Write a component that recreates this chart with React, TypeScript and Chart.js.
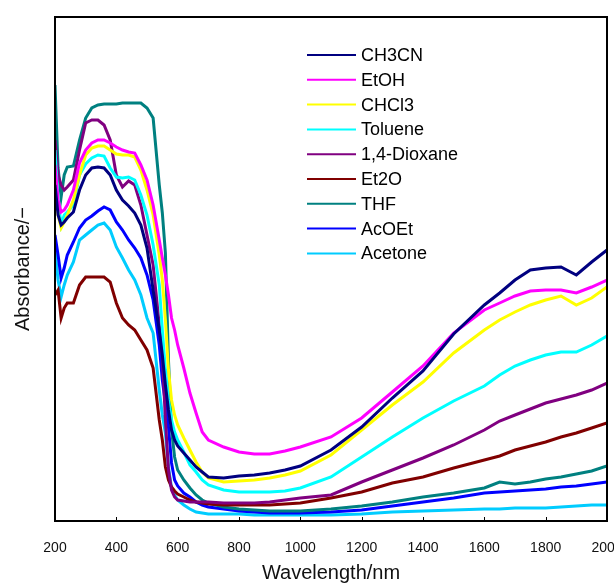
import { useEffect, useRef } from "react";
import { Chart, registerables } from "chart.js";

Chart.register(...registerables);

const wavelengths = [200, 210, 220, 230, 240, 260, 280, 300, 320, 340, 360, 380, 400, 420, 440, 460, 480, 500, 520, 540, 550, 560, 570, 580, 590, 600, 620, 640, 660, 680, 700, 750, 800, 850, 900, 950, 1000, 1100, 1200, 1300, 1400, 1500, 1600, 1650, 1700, 1750, 1800, 1850, 1900, 1950, 2000];

const ch3cn = [3.36, 3.06, 2.96, 2.99, 3.03, 3.09, 3.31, 3.46, 3.53, 3.54, 3.53, 3.46, 3.31, 3.21, 3.15, 3.08, 2.96, 2.73, 2.31, 1.91, 1.66, 1.36, 1.11, 0.91, 0.81, 0.75, 0.68, 0.61, 0.54, 0.49, 0.44, 0.43, 0.45, 0.46, 0.48, 0.51, 0.55, 0.71, 0.94, 1.23, 1.5, 1.87, 2.16, 2.28, 2.41, 2.51, 2.53, 2.54, 2.46, 2.59, 2.71];
const etoh = [3.56, 3.21, 3.09, 3.11, 3.16, 3.31, 3.58, 3.71, 3.78, 3.81, 3.81, 3.78, 3.74, 3.71, 3.69, 3.68, 3.56, 3.41, 3.16, 2.81, 2.63, 2.46, 2.26, 2.03, 1.91, 1.76, 1.53, 1.28, 1.08, 0.89, 0.81, 0.74, 0.69, 0.67, 0.67, 0.7, 0.74, 0.84, 1.03, 1.29, 1.55, 1.88, 2.11, 2.18, 2.25, 2.3, 2.31, 2.31, 2.28, 2.34, 2.41];
const chcl3 = [3.46, 3.06, 2.93, 2.99, 3.06, 3.21, 3.46, 3.66, 3.73, 3.75, 3.75, 3.71, 3.67, 3.66, 3.66, 3.64, 3.51, 3.31, 3.06, 2.66, 2.41, 2.01, 1.51, 1.21, 1.06, 0.96, 0.83, 0.71, 0.59, 0.49, 0.43, 0.39, 0.4, 0.41, 0.43, 0.46, 0.5, 0.66, 0.91, 1.16, 1.39, 1.68, 1.91, 2.01, 2.09, 2.16, 2.21, 2.25, 2.16, 2.23, 2.34];
const toluene = [3.71, 3.21, 2.96, 3.06, 3.09, 3.16, 3.46, 3.57, 3.63, 3.66, 3.65, 3.53, 3.44, 3.43, 3.44, 3.41, 3.26, 3.06, 2.76, 2.36, 1.91, 1.51, 1.21, 1.01, 0.89, 0.81, 0.69, 0.56, 0.49, 0.41, 0.36, 0.31, 0.29, 0.29, 0.29, 0.3, 0.33, 0.44, 0.64, 0.84, 1.03, 1.2, 1.35, 1.46, 1.55, 1.61, 1.66, 1.69, 1.69, 1.76, 1.85];
const dioxane = [3.81, 3.46, 3.36, 3.31, 3.34, 3.41, 3.71, 3.98, 4.01, 4.01, 3.96, 3.81, 3.46, 3.34, 3.4, 3.36, 3.16, 2.86, 2.56, 1.96, 1.66, 1.01, 0.51, 0.31, 0.24, 0.21, 0.2, 0.19, 0.19, 0.19, 0.19, 0.18, 0.18, 0.18, 0.19, 0.21, 0.23, 0.26, 0.39, 0.51, 0.63, 0.76, 0.91, 1.0, 1.06, 1.12, 1.18, 1.22, 1.26, 1.31, 1.38];
const et2o = [2.26, 2.31, 2.03, 2.13, 2.18, 2.18, 2.36, 2.44, 2.44, 2.44, 2.44, 2.39, 2.18, 2.03, 1.96, 1.91, 1.81, 1.71, 1.53, 1.01, 0.81, 0.54, 0.41, 0.34, 0.3, 0.27, 0.24, 0.21, 0.19, 0.18, 0.17, 0.16, 0.16, 0.16, 0.16, 0.17, 0.18, 0.23, 0.29, 0.38, 0.44, 0.53, 0.61, 0.65, 0.71, 0.75, 0.79, 0.84, 0.88, 0.93, 0.98];
const thf = [4.36, 3.53, 3.24, 3.46, 3.54, 3.55, 3.81, 4.03, 4.13, 4.16, 4.17, 4.17, 4.17, 4.18, 4.18, 4.18, 4.18, 4.13, 4.03, 3.36, 3.08, 2.68, 1.61, 0.91, 0.64, 0.51, 0.41, 0.33, 0.26, 0.21, 0.18, 0.14, 0.12, 0.11, 0.1, 0.1, 0.1, 0.12, 0.15, 0.19, 0.24, 0.28, 0.33, 0.39, 0.37, 0.39, 0.42, 0.44, 0.47, 0.5, 0.55];
const acoet = [2.86, 2.66, 2.43, 2.53, 2.66, 2.79, 2.93, 3.01, 3.05, 3.1, 3.14, 3.11, 2.99, 2.91, 2.81, 2.73, 2.63, 2.46, 2.21, 1.76, 1.41, 1.18, 0.94, 0.58, 0.41, 0.35, 0.28, 0.24, 0.19, 0.16, 0.14, 0.12, 0.1, 0.09, 0.08, 0.08, 0.08, 0.09, 0.11, 0.15, 0.19, 0.23, 0.28, 0.29, 0.3, 0.31, 0.32, 0.34, 0.35, 0.37, 0.39];
const acetone = [2.71, 2.41, 2.24, 2.36, 2.46, 2.59, 2.81, 2.86, 2.91, 2.96, 2.98, 2.91, 2.74, 2.63, 2.51, 2.41, 2.26, 2.03, 1.88, 1.31, 1.06, 0.88, 0.54, 0.33, 0.26, 0.21, 0.16, 0.12, 0.09, 0.08, 0.07, 0.07, 0.07, 0.06, 0.06, 0.06, 0.06, 0.06, 0.07, 0.09, 0.1, 0.11, 0.12, 0.12, 0.13, 0.13, 0.13, 0.14, 0.15, 0.16, 0.16];

const seriesNames = ["CH3CN", "EtOH", "CHCl3", "Toluene", "1,4-Dioxane", "Et2O", "THF", "AcOEt", "Acetone"];
const seriesValues = [ch3cn, etoh, chcl3, toluene, dioxane, et2o, thf, acoet, acetone];
const seriesColors = ["#000080", "#FF00FF", "#FFFF00", "#00FFFF", "#800080", "#800000", "#008080", "#0000FF", "#00CCFF"];

const xTickValues = [200, 400, 600, 800, 1000, 1200, 1400, 1600, 1800, 2000];

const FONT = "'Liberation Sans', Arial, sans-serif";

const framePlugin = {
  id: "frameAndLegend",
  afterDraw(chart: any) {
    const { ctx, chartArea } = chart;
    const { left, top, right, bottom } = chartArea;
    ctx.save();
    ctx.strokeStyle = "#000";
    ctx.lineWidth = 2;
    ctx.strokeRect(left, top, right - left, bottom - top);
    const xs = chart.scales.x;
    ctx.lineWidth = 1;
    xTickValues.forEach((v) => {
      const px = Math.round(xs.getPixelForValue(v)) + 0.5;
      ctx.beginPath();
      ctx.moveTo(px, bottom);
      ctx.lineTo(px, bottom - 4);
      ctx.stroke();
    });
    ctx.font = `18px ${FONT}`;
    ctx.textBaseline = "middle";
    ctx.textAlign = "left";
    chart.data.datasets.forEach((ds: any, i: number) => {
      const y = top + 38 + i * 24.8;
      ctx.strokeStyle = ds.borderColor;
      ctx.lineWidth = 2;
      ctx.beginPath();
      ctx.moveTo(left + 252, y);
      ctx.lineTo(left + 301, y);
      ctx.stroke();
      ctx.fillStyle = "#000";
      ctx.fillText(ds.label, left + 306, y + 1);
    });
    ctx.restore();
  },
};

export default function App() {
  const canvasRef = useRef<HTMLCanvasElement | null>(null);

  useEffect(() => {
    const canvas = canvasRef.current;
    if (!canvas) return;
    const chart = new Chart(canvas, {
      type: "line",
      data: {
        datasets: seriesNames.map((name, i) => ({
          label: name,
          data: wavelengths.map((w, j) => ({ x: w, y: seriesValues[i][j] })),
          borderColor: seriesColors[i],
          backgroundColor: seriesColors[i],
          borderWidth: 3,
          pointRadius: 0,
          tension: 0,
          fill: false,
        })),
      },
      options: {
        responsive: false,
        animation: false,
        layout: { padding: { top: 17, right: 7, left: 0, bottom: 0 } },
        plugins: {
          legend: { display: false },
          tooltip: { enabled: false },
        },
        scales: {
          x: {
            type: "linear",
            min: 200,
            max: 2000,
            afterBuildTicks: (s: any) => {
              s.ticks = xTickValues.map((v) => ({ value: v }));
            },
            afterFit: (s: any) => {
              s.height = 62;
              s.paddingLeft = 0;
              s.paddingRight = 0;
            },
            grid: { display: false },
            border: { display: false },
            ticks: {
              padding: 11,
              color: "#111",
              maxRotation: 0,
              autoSkip: false,
              font: { size: 14, family: FONT },
              callback: (v: any) => String(v),
            },
            title: {
              display: true,
              text: "Wavelength/nm",
              color: "#111",
              font: { size: 20, family: FONT, lineHeight: 1 },
              padding: { top: 0, bottom: 0 },
            },
          },
          y: {
            type: "linear",
            min: 0,
            max: 5.04,
            afterFit: (s: any) => {
              s.width = 55;
              s.paddingTop = 0;
              s.paddingBottom = 0;
            },
            grid: { display: false },
            border: { display: false },
            ticks: { display: false },
            title: {
              display: true,
              text: "Absorbance/−",
              color: "#111",
              font: { size: 20, family: FONT, lineHeight: 1 },
              padding: { top: 13, bottom: 0 },
            },
          },
        },
      },
      plugins: [framePlugin],
    });
    return () => chart.destroy();
  }, []);

  return (
    <div style={{ position: "absolute", left: 0, top: 0, width: 614, height: 583, background: "#fff" }}>
      <canvas ref={canvasRef} width={614} height={583} style={{ display: "block" }} />
    </div>
  );
}
